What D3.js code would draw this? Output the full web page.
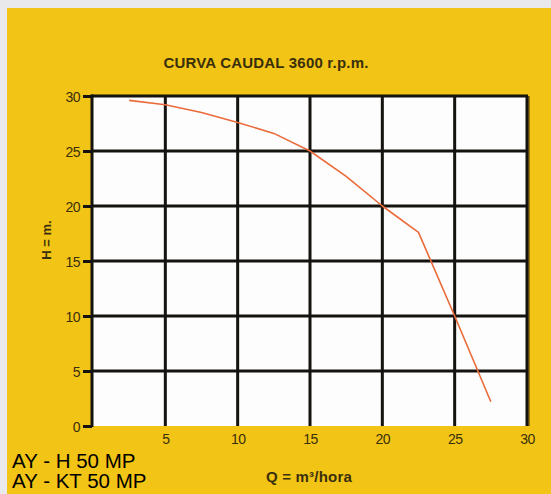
<!DOCTYPE html>
<html>
<head>
<meta charset="utf-8">
<script src="https://cdn.jsdelivr.net/npm/d3@7"></script>
<style>
html,body{margin:0;padding:0;background:#e9e9eb;}
svg{display:block;}
</style>
</head>
<body>
<script>
const title = "CURVA CAUDAL 3600 r.p.m.";
const xLabel = "Q = m³/hora";
const yLabel = "H = m.";
const modelLines = ["AY - H 50 MP", "AY - KT 50 MP"];
const xTicks = [5, 10, 15, 20, 25, 30];
const yTicks = [0, 5, 10, 15, 20, 25, 30];
const flowQ = [2.5, 5, 7.5, 10, 12.5, 15, 17.5, 20, 22.5, 25, 27.5];
const headH = [29.6, 29.2, 28.5, 27.6, 26.6, 25.0, 22.7, 20.0, 17.6, 10.0, 2.2];

const W = 551, H = 494;
const svg = d3.select("body").append("svg").attr("width", W).attr("height", H);

svg.append("rect").attr("x", 7).attr("y", 8).attr("width", W - 7).attr("height", H - 8).attr("fill", "#f2c416");

const x = d3.scaleLinear().domain([0, 30]).range([93, 527]);
const y = d3.scaleLinear().domain([0, 30]).range([426, 96]);

const textCol = "#3a2f0c";
const font = "Liberation Sans, Arial, sans-serif";

// plot area
svg.append("rect").attr("x", x(0)).attr("y", y(30)).attr("width", x(30) - x(0)).attr("height", y(0) - y(30)).attr("fill", "#fdfdfd");

// right shadow edge
svg.append("line").attr("x1", x(30) + 2).attr("x2", x(30) + 2).attr("y1", y(30)).attr("y2", y(0))
  .attr("stroke", "#7a5e10").attr("stroke-width", 1.5);

// grid
const grid = svg.append("g").attr("stroke", "#151310").attr("stroke-width", 3);
grid.selectAll("line.h").data(yTicks.filter(d => d > 0)).enter().append("line")
  .attr("x1", x(0) - 2).attr("x2", x(30) + 1)
  .attr("y1", d => y(d)).attr("y2", d => y(d));
grid.selectAll("line.v").data(xTicks).enter().append("line")
  .attr("y1", y(30)).attr("y2", y(0))
  .attr("x1", d => x(d)).attr("x2", d => x(d));

// left axis
const yAxis = d3.axisLeft(y).tickValues(yTicks).tickSize(9).tickPadding(3).tickSizeOuter(0);
const ga = svg.append("g").attr("transform", `translate(${x(0) - 1},0)`).call(yAxis);
ga.select(".domain").attr("stroke", "#151310").attr("stroke-width", 3).attr("d", `M0,${y(30) - 1.5}V${y(0) + 1}`);
ga.selectAll(".tick line").attr("stroke", "#151310").attr("stroke-width", 3);
ga.selectAll(".tick text").attr("fill", textCol).attr("font-family", font)
  .attr("font-size", 14).attr("letter-spacing", -0.5).attr("dy", "0.36em");

// bottom axis labels only
const xAxis = d3.axisBottom(x).tickValues(xTicks).tickSize(0).tickPadding(8);
const gx = svg.append("g").attr("transform", `translate(0,${y(0)})`).call(xAxis);
gx.select(".domain").remove();
gx.selectAll(".tick text").attr("fill", textCol).attr("font-family", font)
  .attr("font-size", 14).attr("letter-spacing", -0.5);

// curve
const pts = flowQ.map((q, i) => [q, headH[i]]);
svg.append("path").datum(pts)
  .attr("fill", "none").attr("stroke", "#ea6a3a").attr("stroke-width", 1.6)
  .attr("stroke-linejoin", "round")
  .attr("d", d3.line().x(d => x(d[0])).y(d => y(d[1])));

// title
svg.append("text").attr("x", 266).attr("y", 68).attr("text-anchor", "middle")
  .attr("font-family", font).attr("font-weight", "bold")
  .attr("font-size", 15).attr("letter-spacing", 0.2).attr("fill", textCol).text(title);

// y label
svg.append("text").attr("transform", "translate(51,240) rotate(-90)").attr("text-anchor", "middle")
  .attr("font-family", font).attr("font-weight", "bold")
  .attr("font-size", 13).attr("fill", textCol).text(yLabel);

// x label
svg.append("text").attr("x", 309).attr("y", 482).attr("text-anchor", "middle")
  .attr("font-family", font).attr("font-weight", "bold")
  .attr("font-size", 15).attr("letter-spacing", 0.2).attr("fill", textCol).text(xLabel);

// model lines
svg.selectAll("text.model").data(modelLines).enter().append("text")
  .attr("x", 12).attr("y", (d, i) => 468 + i * 20)
  .attr("font-family", font).attr("font-size", 20.5)
  .attr("fill", "#000").text(d => d);
</script>
</body>
</html>
